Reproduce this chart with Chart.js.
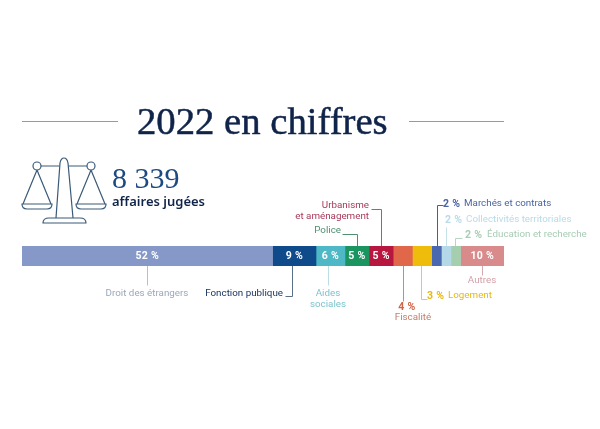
<!DOCTYPE html>
<html>
<head>
<meta charset="utf-8">
<script src="https://cdn.jsdelivr.net/npm/chart.js@4"></script>
<style>
  html, body { margin: 0; padding: 0; background: #fff; }
  #page { position: relative; width: 600px; height: 429px; overflow: hidden; }
  #graphe { position: absolute; left: 0; top: 0; }
  .regle { position: absolute; top: 121px; height: 1px; background: #7fa3b5; }
  #titre { position: absolute; left: 137px; top: 99px; font: 38.7px "Liberation Serif", serif; -webkit-text-stroke: 0.5px #10244a; color: #10244a; white-space: nowrap; }
  #nombre { position: absolute; left: 112px; top: 161px; font: 30px "Liberation Serif", serif; color: #1d4a80; white-space: nowrap; }
  #affaires { position: absolute; left: 112px; top: 192px; font: 600 13px "Noto Sans", sans-serif; color: #10244a; white-space: nowrap; }
  #balance { position: absolute; left: 15px; top: 150px; }
</style>
</head>
<body>
<div id="page">
  <canvas id="graphe" width="600" height="429"></canvas>
  <div class="regle" style="left:22px;width:96px"></div>
  <div class="regle" style="left:409px;width:95px"></div>
  <div id="titre">2022 en chiffres</div>
  <svg id="balance" width="100" height="80" fill="none" stroke="#3b5a78" stroke-width="1.2">
    <circle cx="22" cy="16" r="4"/>
    <circle cx="76" cy="16" r="4"/>
    <path d="M26 16H44.5M53.5 16H72"/>
    <path d="M41 68L45 13Q46 8 49 8Q52 8 53 13L58 68"/>
    <path d="M22 20L8 54M22 20L36 54M76 20L62 54M76 20L90 54"/>
    <path d="M7 54H37Q37 59 32 59H12Q7 59 7 54Z"/>
    <path d="M61 54H91Q91 59 86 59H66Q61 59 61 54Z"/>
    <path d="M28 73Q28 68 34 68H65Q71 68 71 73Z"/>
  </svg>
  <div id="nombre">8 339</div>
  <div id="affaires">affaires jugées</div>
</div>
<script>
// categories et valeurs
const categories = ['Droit des étrangers', 'Fonction publique', 'Aides sociales', 'Police', 'Urbanisme et aménagement', 'Fiscalité', 'Logement', 'Marchés et contrats', 'Collectivités territoriales', 'Éducation et recherche', 'Autres'];
// largeur dessinee de chaque segment
const largeurs = [52, 9, 6, 5, 5, 4, 4, 2, 2, 2, 9];
// pourcentage imprime sur le graphique
const pourcents = [52, 9, 6, 5, 5, 4, 3, 2, 2, 2, 10];
const couleurs = ['#8598c8', '#0f4a8a', '#4fb8c6', '#1b9560', '#b7173f', '#e0674a', '#eebc0a', '#4a68b0', '#b4d8e8', '#a5ceae', '#d98a8a'];

const police = 'Roboto, sans-serif';

// le pourcentage est ecrit dans la barre pour ces segments
const dansLaBarre = [0, 1, 2, 3, 4, 10];

// etiquettes autour de la barre
const etiquettes = [
  { i: 0, trait: [[0, 266], [0, 285]], couleurTrait: '#b4bfcf', lignes: [['Droit des étrangers', 147, 294, 'center', '#9aa8ba']] },
  { i: 1, trait: [[-2, 266], [-2, 296], [-9, 296]], couleurTrait: '#5a6f88', lignes: [['Fonction publique', 283, 294, 'right', '#12305a']] },
  { i: 2, trait: [[-2, 266], [-2, 285]], couleurTrait: '#bcdde2', lignes: [['Aides', 328, 294, 'center', '#7cc4cc'], ['sociales', 328, 305, 'center', '#7cc4cc']] },
  { i: 3, trait: [[0, 246], [0, 234], [-15, 234]], couleurTrait: '#4f9070', lignes: [['Police', 341, 231, 'right', '#4f9070']] },
  { i: 4, trait: [[0, 246], [0, 209], [-10, 209]], couleurTrait: '#b5557a', lignes: [['Urbanisme', 369, 206, 'right', '#a83a5a'], ['et aménagement', 369, 217, 'right', '#a83a5a']] },
  { i: 5, trait: [[0, 266], [0, 301]], couleurTrait: '#c98a76', lignes: [['4 %', 407, 307, 'center', '#cf6444', true], ['Fiscalité', 413, 318, 'center', '#c07f6c']] },
  { i: 6, trait: [[-1, 266], [-1, 299], [5, 299]], couleurTrait: '#ecc94a', lignes: [['3 %', 427, 296, 'left', '#e8b90d', true], ['Logement', 448, 296, 'left', '#e8b90d']] },
  { i: 7, trait: [[0, 246], [0, 205], [6, 205]], couleurTrait: '#4a5f88', lignes: [['2 %', 443, 204, 'left', '#4a64a0', true], ['Marchés et contrats', 464, 204, 'left', '#4a64a0']] },
  { i: 8, trait: [[0, 246], [0, 227]], couleurTrait: '#c6e1ea', lignes: [['2 %', 445, 220, 'left', '#b8dbe8', true], ['Collectivités territoriales', 466, 220, 'left', '#b8dbe8']] },
  { i: 9, trait: [[-1, 246], [-1, 238], [6, 238]], couleurTrait: '#b6d6c0', lignes: [['2 %', 465, 235, 'left', '#a8ccb4', true], ['Éducation et recherche', 487, 235, 'left', '#a8ccb4']] },
  { i: 10, trait: [[0, 266], [0, 275]], couleurTrait: '#d2aab0', lignes: [['Autres', 482, 281, 'center', '#d2a0a8']] }
];

// dessine les pourcentages, les traits et les etiquettes
const pluginEtiquettes = {
  id: 'etiquettes',
  afterDatasetsDraw(chart) {
    const ctx = chart.ctx;
    const x = chart.scales.x;
    const y0 = chart.chartArea.top;
    const y1 = chart.chartArea.bottom;
    const cumul = [];
    largeurs.reduce((s, v, i) => { cumul[i] = s + v / 2; return s + v; }, 0);

    ctx.save();
    ctx.textBaseline = 'middle';
    ctx.textAlign = 'center';
    ctx.fillStyle = '#fff';
    ctx.font = '700 10.5px ' + police;
    ctx.letterSpacing = '0.3px';
    dansLaBarre.forEach(i => {
      ctx.fillText(pourcents[i] + ' %', x.getPixelForValue(cumul[i]), (y0 + y1) / 2);
    });

    etiquettes.forEach(e => {
      const cx = x.getPixelForValue(cumul[e.i]);
      ctx.strokeStyle = e.couleurTrait;
      ctx.lineWidth = 1;
      ctx.beginPath();
      e.trait.forEach((p, k) => {
        const px = Math.round(cx + p[0]) + 0.5;
        if (k === 0) ctx.moveTo(px, p[1]); else ctx.lineTo(px, p[1] + 0.5);
      });
      ctx.stroke();
      e.lignes.forEach(l => {
        ctx.font = (l[5] ? '700 10.5px ' : '400 9.8px ') + police;
        ctx.letterSpacing = l[5] ? '0.3px' : '0px';
        ctx.textAlign = l[3];
        ctx.fillStyle = l[4];
        ctx.fillText(l[0], l[1], l[2]);
      });
    });
    ctx.restore();
  }
};

new Chart(document.getElementById('graphe').getContext('2d'), {
  type: 'bar',
  data: {
    labels: ['2022'],
    datasets: categories.map((c, i) => ({
      label: c,
      data: [largeurs[i]],
      backgroundColor: couleurs[i],
      barPercentage: 1,
      categoryPercentage: 1
    }))
  },
  options: {
    indexAxis: 'y',
    responsive: false,
    animation: false,
    layout: { padding: { left: 22, right: 96, top: 246, bottom: 163 } },
    plugins: { legend: { display: false }, title: { display: false }, tooltip: { enabled: false } },
    scales: {
      x: { stacked: true, display: false, min: 0, max: 100 },
      y: { stacked: true, display: false }
    }
  },
  plugins: [pluginEtiquettes]
});
</script>
</body>
</html>
